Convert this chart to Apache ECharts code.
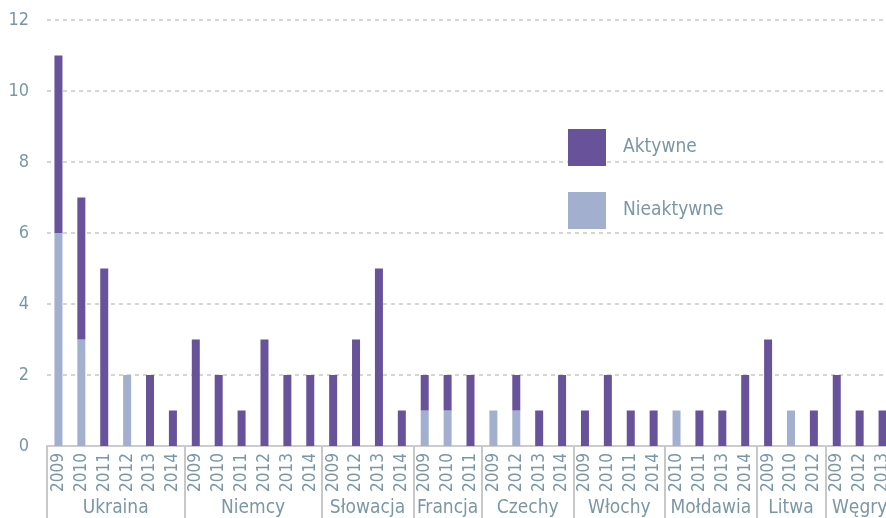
<!DOCTYPE html>
<html>
<head>
<meta charset="utf-8">
<script src="https://cdn.jsdelivr.net/npm/echarts@6/dist/echarts.min.js"></script>
<style>html,body{margin:0;padding:0;background:#fff}#c{width:886px;height:518px}</style>
</head>
<body>
<div id="c"></div>
<script>
var years = ['2009','2010','2011','2012','2013','2014',
             '2009','2010','2011','2012','2013','2014',
             '2009','2012','2013','2014',
             '2009','2010','2011',
             '2009','2012','2013','2014',
             '2009','2010','2011','2014',
             '2010','2011','2013','2014',
             '2009','2010','2012',
             '2009','2012','2013'];
var groupNames = ['Ukraina','Niemcy','Słowacja','Francja','Czechy','Włochy','Mołdawia','Litwa','Węgry'];
var groupSizes = [6,6,4,3,4,4,4,3,3];
var inactive = [6,3,0,2,0,0, 0,0,0,0,0,0, 0,0,0,0, 1,1,0, 1,1,0,0, 0,0,0,0, 1,0,0,0, 0,1,0, 0,0,0];
var active   = [5,4,5,0,2,1, 3,2,1,3,2,2, 2,3,5,1, 1,1,2, 0,1,1,2, 1,2,1,1, 0,1,1,2, 3,0,1, 2,1,1];
var yTicks = {min:0, max:12, interval:2};

var FONT = '"Liberation Sans Narrow","DejaVu Sans Condensed",sans-serif';
var TXT = '#7b97a6';

// group axis: half-bar resolution points (boundaryGap false)
var nHalf = years.length * 2 + 1;
var groupAxisData = [];
for (var i = 0; i < nHalf; i++) groupAxisData.push('');
var boundarySet = {};
var start = 0;
groupSizes.forEach(function (s, gi) {
  boundarySet[2 * start] = true;
  groupAxisData[2 * start + s] = groupNames[gi];
  start += s;
  boundarySet[2 * start] = true;
});

var chart = echarts.init(document.getElementById('c'));
chart.setOption({
  animation: false,
  grid: {left: 47, width: 847, top: 20, bottom: 72, containLabel: false, outerBoundsMode: 'none'},
  legend: {
    data: ['Aktywne', 'Nieaktywne'],
    orient: 'vertical',
    left: 563, top: 124,
    itemWidth: 38, itemHeight: 37, itemGap: 26,
    icon: 'rect',
    textStyle: {color: TXT, fontFamily: FONT, fontSize: 19, padding: [8, 0, 0, 12]}
  },
  xAxis: [{
    type: 'category',
    data: years,
    axisLine: {show: true, lineStyle: {color: '#cccccc', width: 2}},
    axisTick: {show: false},
    axisLabel: {rotate: 90, interval: 0, margin: 7, color: TXT, fontFamily: FONT, fontSize: 17}
  }, {
    type: 'category',
    position: 'bottom',
    boundaryGap: false,
    data: groupAxisData,
    axisLine: {show: false},
    axisTick: {show: true, length: 74, lineStyle: {color: '#c8c8c8', width: 2},
      interval: function (idx) { return !!boundarySet[idx]; }},
    axisLabel: {interval: 0, margin: 53, color: TXT, fontFamily: FONT, fontSize: 19}
  }],
  yAxis: {
    type: 'value',
    min: yTicks.min, max: yTicks.max, interval: yTicks.interval,
    axisLine: {show: false},
    axisTick: {show: false},
    axisLabel: {margin: 18, color: TXT, fontFamily: FONT, fontSize: 18},
    splitLine: {lineStyle: {color: '#c8c8c8', type: [4, 4], width: 1.5}}
  },
  series: [{
    name: 'Nieaktywne', type: 'bar', stack: 'a', data: inactive,
    barWidth: 8, itemStyle: {color: '#a2afce'}, xAxisIndex: 0
  }, {
    name: 'Aktywne', type: 'bar', stack: 'a', data: active,
    barWidth: 8, itemStyle: {color: '#68529a'}, xAxisIndex: 0
  }]
});
</script>
</body>
</html>
